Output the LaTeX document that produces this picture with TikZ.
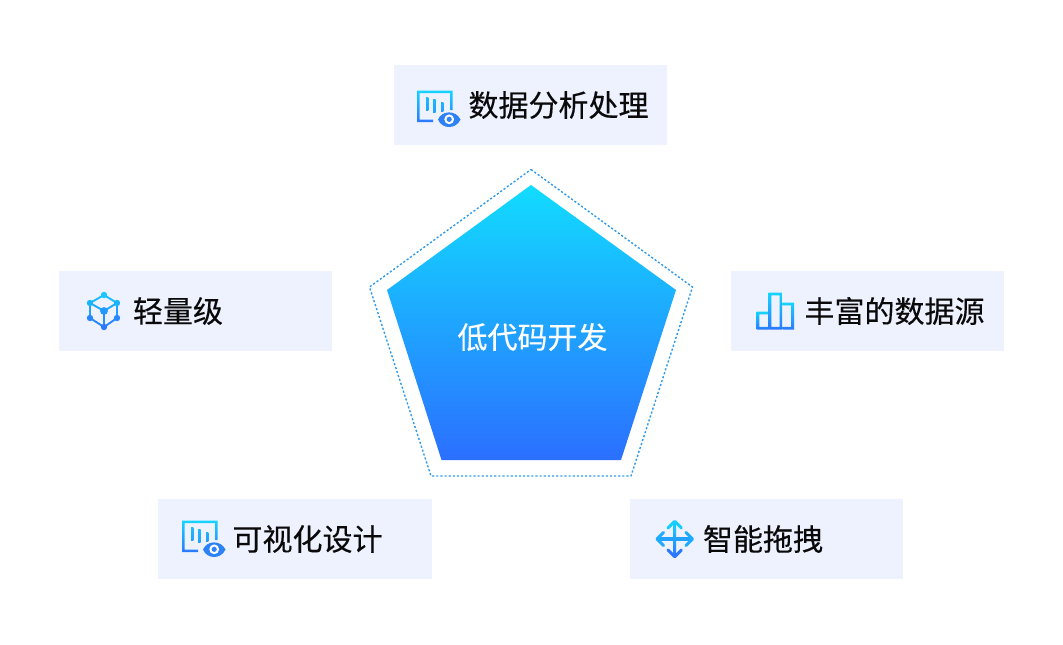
\documentclass[tikz,border=0pt]{standalone}
\usepackage{fontspec}
\newfontfamily\cjk[FakeBold=0.3]{Noto Sans CJK SC}
\definecolor{panel}{HTML}{EEF2FF}
\definecolor{gtop}{HTML}{12DCFF}
\definecolor{gbot}{HTML}{2B6FFF}
\definecolor{itop}{HTML}{16D4FF}
\definecolor{ibot}{HTML}{2B78FF}
\definecolor{dotline}{HTML}{2E9BEF}
\definecolor{eyeblue}{HTML}{2C82F6}
\definecolor{ink}{HTML}{0A0A0A}
\tikzset{
  panelbox/.style={fill=panel,draw=none,minimum width=273*0.75pt,minimum height=80*0.75pt,inner sep=0pt,outer sep=0pt},
  itemtext/.style={font=\cjk\fontsize{22.5pt}{24pt}\selectfont,text=ink,inner sep=0pt},
  coretext/.style={font=\cjk\fontsize{22.5pt}{24pt}\selectfont,text=white,inner sep=0pt},
  icongrad/.style={top color=itop,bottom color=ibot,draw=none},
  cubeline/.style={line width=1.9*0.75pt,line cap=round},
  movearm/.style={line width=3*0.75pt,line cap=round,line join=round},
}
\newcommand{\chartmark}{%
  \shade[icongrad] (417,90.5) -- (452.5,90.5) -- (452.5,110) -- (450,110) -- (450,93) -- (419.5,93) -- (419.5,119.5) -- (433,119.5) -- (433,122) -- (417,122) -- cycle;
  \shade[top color=itop!75!ibot,bottom color=itop!45!ibot,draw=none] (426,97) rectangle (428.4,110);
  \shade[top color=itop!70!ibot,bottom color=itop!45!ibot,draw=none] (433.2,99) rectangle (435.6,112);
  \shade[top color=itop!65!ibot,bottom color=itop!40!ibot,draw=none] (441,102) rectangle (443.4,111);
  \fill[eyeblue] (438,119.5) .. controls (442,110) and (456,110) .. (460.5,119.5) .. controls (456,129.5) and (442,129.5) .. (438,119.5) -- cycle;
  \fill[white] (449.2,119.3) circle (4.9);
  \fill[eyeblue] (449.2,119.3) circle (2.6);
}
\begin{document}
\begin{tikzpicture}[x=0.75pt,y=-0.75pt]
\useasboundingbox (0,0) rectangle (1063,644);
% panels
\node[panelbox,anchor=north west] (boxTop) at (394,65) {};
\node[panelbox,anchor=north west] (boxLeft) at (59,271) {};
\node[panelbox,anchor=north west] (boxRight) at (731,271) {};
\node[panelbox,anchor=north west,minimum width=274*0.75pt] (boxLL) at (158,499) {};
\node[panelbox,anchor=north west] (boxLR) at (630,499) {};
% pentagon
\draw[dotline,line width=1.05pt,dash pattern=on 1.6pt off 1.5pt] (531,169.5) -- (692.5,287) -- (631,476) -- (431,476) -- (369.5,287) -- cycle;
\shade[top color=gtop,bottom color=gbot,draw=none] (531,185) -- (676,290) -- (621,460) -- (441.5,460) -- (387,290) -- cycle;
% labels
\node[coretext] (core) at (532.5,337) {低代码开发};
\node[itemtext] (tTop) at (558.5,105) {数据分析处理};
\node[itemtext] (tLeft) at (178,311) {轻量级};
\node[itemtext] (tRight) at (894.5,311) {丰富的数据源};
\node[itemtext] (tLL) at (307.5,539) {可视化设计};
\node[itemtext] (tLR) at (763,539) {智能拖拽};
% chart + eye icons
\chartmark
\begin{scope}[shift={(-235,430)}]
\chartmark
\end{scope}
% cube icon
\draw[cubeline,itop!75!ibot] (90,303) -- (104,295) -- (117,303);
\draw[cubeline,itop!45!ibot] (90,303) -- (90,318);
\draw[cubeline,itop!45!ibot] (117,303) -- (117,318);
\draw[cubeline,ibot!85!itop] (90,318) -- (104,327) -- (117,318);
\draw[cubeline,itop!55!ibot] (90,303) -- (104,311) -- (117,303);
\draw[cubeline,itop!25!ibot] (104,311) -- (104,327);
\fill[itop!85!ibot] (104,295) circle (3.2);
\fill[itop!65!ibot] (90,303) circle (3.2);
\fill[itop!65!ibot] (117,303) circle (3.2);
\fill[itop!15!ibot] (90,318) circle (3.2);
\fill[itop!15!ibot] (117,318) circle (3.2);
\fill[ibot] (104,327) circle (3.2);
\fill[itop!35!ibot] (104,311) circle (3.9);
% bars icon
\shade[icongrad,even odd rule] (756.5,311.5) rectangle (768.5,329.7) (759.3,314.3) rectangle (768.5,326.9);
\shade[icongrad,even odd rule] (768.5,292.5) rectangle (782.5,329.7) (771.3,295.3) rectangle (779.7,326.9);
\shade[icongrad,even odd rule] (782.5,302.5) rectangle (794,329.7) (782.5,305.3) rectangle (791.2,326.9);
% move icon
\shade[icongrad] (673.2,522) rectangle (676.2,556);
\shade[top color=itop!45!ibot,bottom color=itop!45!ibot,draw=none] (658,537.5) rectangle (692,540.5);
\draw[movearm,itop!90!ibot] (668,528) -- (674.7,521.3) -- (681.4,528);
\draw[movearm,ibot] (668,550) -- (674.7,556.7) -- (681.4,550);
\draw[movearm,itop!55!ibot] (663.5,532.5) -- (657,539) -- (663.5,545.5);
\draw[movearm,itop!55!ibot] (686,532.5) -- (692.5,539) -- (686,545.5);
\end{tikzpicture}
\end{document}
